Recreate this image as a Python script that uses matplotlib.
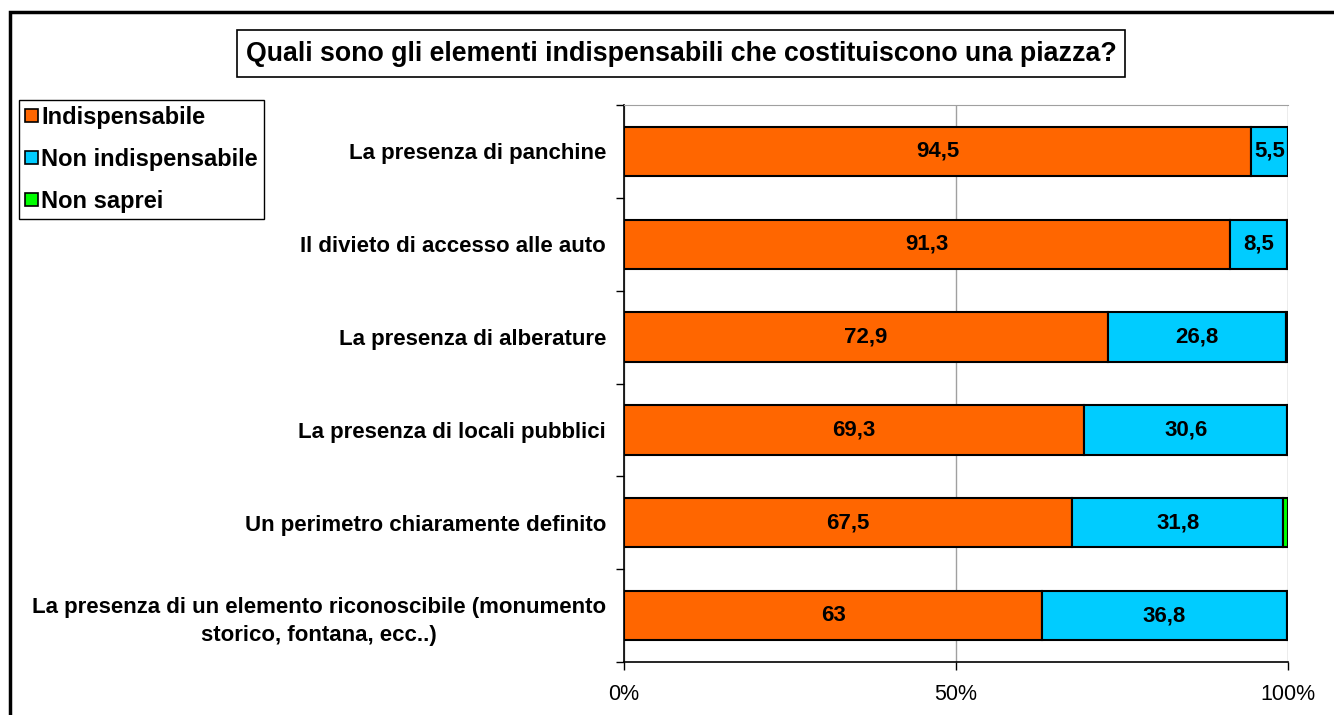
import matplotlib
matplotlib.use("Agg")
import matplotlib.pyplot as plt
from matplotlib.patches import Rectangle, Patch

plt.rcParams['font.family'] = ['Liberation Sans', 'DejaVu Sans']

titolo = "Quali sono gli elementi indispensabili che costituiscono una piazza?"
categorie = [
    "La presenza di panchine",
    "Il divieto di accesso alle auto",
    "La presenza di alberature",
    "La presenza di locali pubblici",
    "Un perimetro chiaramente definito",
    "La presenza di un elemento riconoscibile (monumento\nstorico, fontana, ecc..)",
]
serie = ["Indispensabile", "Non indispensabile", "Non saprei"]
indispensabile = [94.5, 91.3, 72.9, 69.3, 67.5, 63]
non_indispensabile = [5.5, 8.5, 26.8, 30.6, 31.8, 36.8]
non_saprei = [0.0, 0.2, 0.3, 0.1, 0.7, 0.2]
colori = ["#FF6600", "#00CCFF", "#00FF00"]

W, H = 1334, 715
fig = plt.figure(figsize=(W / 100, H / 100), dpi=100)

# cornice esterna
fig.patches.append(Rectangle((10 / W, -0.05), 1.1, 1 - 12 / H + 0.05,
                             transform=fig.transFigure, fill=False,
                             edgecolor="black", linewidth=2.5))

ax = fig.add_axes([624 / W, 1 - 662 / H, 664 / W, 557 / H])

y = list(range(len(categorie)))
valori = [indispensabile, non_indispensabile, non_saprei]
left = [0.0] * len(categorie)
for nome, vals, col in zip(serie, valori, colori):
    ax.barh(y, vals, left=left, height=0.53, color=col, edgecolor="black",
            linewidth=1.5, label=nome)
    for i, v in enumerate(vals):
        if v >= 1:
            ax.text(left[i] + v / 2, i, f"{v:g}".replace(".", ","),
                    ha="center", va="center", fontsize=16, fontweight="bold")
    left = [a + b for a, b in zip(left, vals)]

ax.set_xlim(0, 100)
ax.set_ylim(len(categorie) - 0.5, -0.5)
ax.set_xticks([0, 50, 100])
ax.set_xticklabels(["0%", "50%", "100%"], fontsize=15.5)
ax.tick_params(axis="x", direction="out", length=6, width=1, pad=10)
ax.set_yticks([i - 0.5 for i in range(len(categorie) + 1)])
ax.set_yticklabels([])
ax.tick_params(axis="y", which="major", direction="out", length=6, width=1)
ax.set_yticks(y, minor=True)
ax.set_yticklabels(categorie, minor=True, fontsize=16, fontweight="bold",
                   multialignment="center")
for t in ax.get_yticklabels(minor=True):
    t.set_linespacing(1.45)
ax.tick_params(axis="y", which="minor", length=0, pad=13)

ax.xaxis.grid(True, color="#A0A0A0", linewidth=1)
ax.set_axisbelow(True)
ax.spines["top"].set_color("#A0A0A0")
ax.spines["right"].set_visible(False)
ax.spines["left"].set_linewidth(1.2)
ax.spines["bottom"].set_linewidth(1.2)

# titolo in riquadro
fig.patches.append(Rectangle((237 / W, 1 - 77 / H), 888 / W, 47 / H,
                             transform=fig.transFigure, facecolor="white",
                             edgecolor="black", linewidth=1.2))
fig.text(681 / W, 1 - 54 / H, titolo, ha="center", va="center",
         fontsize=19.3, fontweight="bold")

maniglie = [Patch(facecolor=c, edgecolor="black", linewidth=1.2) for c in colori]
fig.legend(maniglie, serie, loc="upper left",
           bbox_to_anchor=(19 / W, 1 - 100 / H), fancybox=False,
           edgecolor="black", framealpha=1, handlelength=0.55,
           handleheight=0.45, handletextpad=0.15, labelspacing=0.8,
           borderpad=0.25, borderaxespad=0,
           prop={"size": 17, "weight": "bold"})

fig.savefig("out.png", dpi=100)
